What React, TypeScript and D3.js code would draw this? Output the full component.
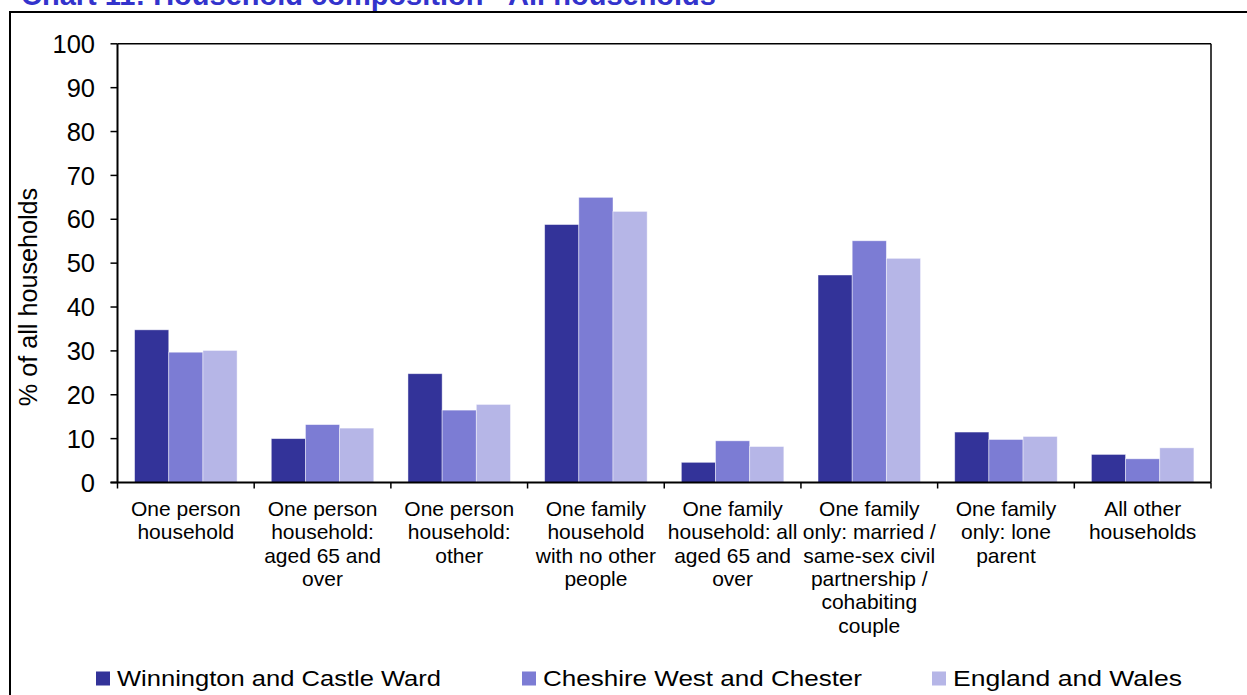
import React from "react";
import * as d3 from "d3";

const categories: string[][] = [
  ["One person", "household"],
  ["One person", "household:", "aged 65 and", "over"],
  ["One person", "household:", "other"],
  ["One family", "household", "with no other", "people"],
  ["One family", "household: all", "aged 65 and", "over"],
  ["One family", "only: married /", "same-sex civil", "partnership /", "cohabiting", "couple"],
  ["One family", "only: lone", "parent"],
  ["All other", "households"],
];

const seriesNames = ["Winnington and Castle Ward", "Cheshire West and Chester", "England and Wales"];
const winnington = [34.8, 10.0, 24.8, 58.8, 4.6, 47.3, 11.5, 6.4];
const cheshire = [29.7, 13.2, 16.5, 65.0, 9.5, 55.1, 9.8, 5.4];
const englandWales = [30.1, 12.4, 17.8, 61.8, 8.2, 51.1, 10.5, 7.9];
const seriesValues = [winnington, cheshire, englandWales];
const seriesColors = ["#333399", "#7c7cd4", "#b6b6e7"];
const yTicks = [0, 10, 20, 30, 40, 50, 60, 70, 80, 90, 100];

const title = "Chart 11: Household composition - All households";
const yTitle = "% of all households";

export default function App() {
  const left = 117.5;
  const right = 1211;
  const top = 43.8;
  const bottom = 482.5;

  const x = d3
    .scaleBand<number>()
    .domain(categories.map((_, i) => i))
    .range([left, right])
    .padding(0);
  const y = d3.scaleLinear().domain([0, 100]).range([bottom, top]);
  const bw = x.bandwidth();
  const barW = bw * 0.25;
  const groupOff = bw * 0.125;

  const legendX = [96, 522, 932];
  const legendLen = [324, 319, 229];

  return (
    <svg
      width={1247}
      height={695}
      style={{ position: "absolute", left: 0, top: 0, background: "#fff" }}
      fontFamily="Arial, 'Liberation Sans', sans-serif"
    >
      <rect x={0} y={0} width={1247} height={695} fill="#fff" />
      {/* Title (partly cut off) */}
      <text x={21} y={5} fontSize={29} fontWeight="bold" fill="#3333cc">
        {title}
      </text>
      {/* outer frame */}
      <rect x={10} y={12} width={1300} height={800} fill="none" stroke="#000" strokeWidth={2} />

      {/* bars */}
      {seriesValues.map((vals, si) =>
        vals.map((v, ci) => (
          <rect
            key={`${si}-${ci}`}
            x={(x(ci) as number) + groupOff + si * barW}
            y={y(v)}
            width={barW}
            height={y(0) - y(v)}
            fill={seriesColors[si]}
            stroke="rgba(255,255,255,0.55)"
            strokeWidth={0.8}
          />
        ))
      )}

      {/* plot frame top & right */}
      <line x1={left} x2={right} y1={top} y2={top} stroke="#000" strokeWidth={1.5} />
      <line x1={right} x2={right} y1={top} y2={bottom} stroke="#000" strokeWidth={1.5} />

      {/* y axis */}
      <line x1={left} x2={left} y1={top} y2={bottom} stroke="#000" strokeWidth={2} />
      {yTicks.map((t) => (
        <g key={t}>
          <line x1={left - 7} x2={left} y1={y(t)} y2={y(t)} stroke="#000" strokeWidth={1.5} />
          <text x={95} y={y(t)} dy="0.36em" textAnchor="end" fontSize={25.5} fill="#000">
            {t}
          </text>
        </g>
      ))}
      <text
        transform={`translate(37,297) rotate(-90)`}
        textAnchor="middle"
        fontSize={25.2}
        fill="#000"
      >
        {yTitle}
      </text>

      {/* x axis */}
      <line x1={left - 7} x2={right} y1={bottom} y2={bottom} stroke="#000" strokeWidth={2} />
      {categories.map((_, i) => (
        <line
          key={`t${i}`}
          x1={x(i) as number}
          x2={x(i) as number}
          y1={bottom}
          y2={bottom + 6}
          stroke="#000"
          strokeWidth={1.5}
        />
      ))}
      <line x1={right} x2={right} y1={bottom} y2={bottom + 6} stroke="#000" strokeWidth={1.5} />
      {categories.map((lines, i) => (
        <text
          key={`c${i}`}
          x={(x(i) as number) + bw / 2}
          y={516}
          textAnchor="middle"
          fontSize={21}
          fill="#000"
        >
          {lines.map((l, j) => (
            <tspan key={j} x={(x(i) as number) + bw / 2} y={516 + j * 23.3}>
              {l}
            </tspan>
          ))}
        </text>
      ))}

      {/* legend */}
      {seriesNames.map((n, i) => (
        <g key={n}>
          <rect x={legendX[i]} y={671.5} width={14} height={14} fill={seriesColors[i]} />
          <text
            x={legendX[i] + 21}
            y={686}
            fontSize={22}
            fill="#000"
            textLength={legendLen[i]}
            lengthAdjust="spacingAndGlyphs"
          >
            {n}
          </text>
        </g>
      ))}
    </svg>
  );
}
